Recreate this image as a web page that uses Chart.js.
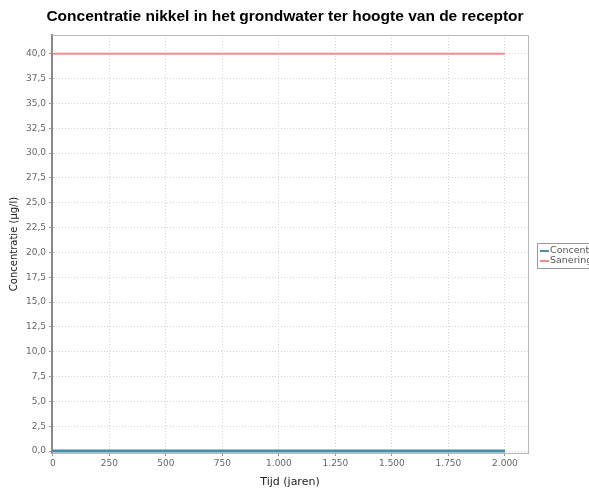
<!DOCTYPE html>
<html>
<head>
<meta charset="utf-8">
<script src="https://cdn.jsdelivr.net/npm/chart.js@4"></script>
<style>
    html, body { margin: 0; padding: 0; background: #fff; overflow: hidden; }
    #wrap { position: relative; width: 589px; height: 489px; }
</style>
</head>
<body>
<div id="wrap"><canvas id="grafiek" width="589" height="489"></canvas></div>
<script>
// ───── DATA ─────
const TITEL        = "Concentratie nikkel in het grondwater ter hoogte van de receptor";
const JAREN        = [0, 250, 500, 750, 1000, 1250, 1500, 1750, 2000];
const CONCENTRATIE = [0, 0, 0, 0, 0, 0, 0, 0, 0];
const SANERING     = [40, 40, 40, 40, 40, 40, 40, 40, 40];
const X_TICKS      = [0, 250, 500, 750, 1000, 1250, 1500, 1750, 2000];
const Y_TICKS      = [0, 2.5, 5, 7.5, 10, 12.5, 15, 17.5, 20, 22.5, 25, 27.5, 30, 32.5, 35, 37.5, 40];
const REEKSEN = [
    { label: "Concentratie",  data: CONCENTRATIE, color: "rgb(72,142,170)",  width: 3 },
    { label: "Saneringsnorm", data: SANERING,     color: "rgb(244,140,140)", width: 2 },
];

const FONT = "Tahoma, 'DejaVu Sans', sans-serif";

function fmtNL(v, dec) {
    // 1000 -> "1.000", 2.5 -> "2,5"
    let s = dec ? v.toFixed(dec) : String(Math.round(v));
    let [int, frac] = s.split(".");
    int = int.replace(/\B(?=(\d{3})+(?!\d))/g, ".");
    return frac !== undefined ? int + "," + frac : int;
}

// titel + plotkader + legenda rechts
const extraTekenen = {
    id: "extraTekenen",
    afterDraw(chart) {
        const ctx = chart.ctx;
        const a   = chart.chartArea;
        ctx.save();

        ctx.strokeStyle = "#b8b8b8";
        ctx.lineWidth = 1;
        ctx.setLineDash([]);
        ctx.beginPath();
        ctx.moveTo(a.left, a.top + 0.5);
        ctx.lineTo(a.right + 0.5, a.top + 0.5);
        ctx.lineTo(a.right + 0.5, a.bottom + 0.5);
        ctx.lineTo(a.left, a.bottom + 0.5);
        ctx.stroke();

        ctx.fillStyle = "#000";
        ctx.font = "bold 15.5px 'Liberation Sans', Arial, sans-serif";
        ctx.textAlign = "center";
        ctx.textBaseline = "middle";
        ctx.fillText(TITEL, 285, 17);

        const lx = 537, ly = 243;
        ctx.strokeStyle = "#999";
        ctx.strokeRect(lx + 0.5, ly + 0.5, 80, 25);
        ctx.font = "9.5px " + FONT;
        ctx.textAlign = "left";
        REEKSEN.forEach((r, i) => {
            const y = ly + 8 + i * 10;
            ctx.strokeStyle = r.color;
            ctx.lineWidth = 2;
            ctx.beginPath();
            ctx.moveTo(lx + 3, y);
            ctx.lineTo(lx + 12, y);
            ctx.stroke();
            ctx.fillStyle = "#555";
            ctx.fillText(r.label, lx + 13, y);
        });
        ctx.restore();
    }
};

new Chart(document.getElementById("grafiek").getContext("2d"), {
    type: "line",
    data: {
        datasets: REEKSEN.map(r => ({
            label: r.label,
            data: JAREN.map((j, i) => ({ x: j, y: r.data[i] })),
            borderColor: r.color,
            backgroundColor: r.color,
            borderWidth: r.width,
            pointRadius: 0,
            tension: 0,
        })).reverse()
    },
    options: {
        responsive: false,
        animation: false,
        layout: { padding: { top: 35, right: 61, left: 8, bottom: 0 } },
        plugins: {
            legend: { display: false },
            title: { display: false },
            tooltip: { enabled: false },
        },
        scales: {
            x: {
                type: "linear",
                min: -4, max: 2102,
                afterBuildTicks: s => { s.ticks = X_TICKS.map(v => ({ value: v })); },
                afterFit: s => { s.height = 36; },
                grid: { color: "#d4d4d4", tickLength: 3, tickColor: "#999", tickBorderDash: [] },
                border: { display: true, color: "#999", width: 1, dash: [1, 2] },
                ticks: { color: "#666", font: { family: FONT, size: 9 }, padding: 2, maxRotation: 0,
                         callback: v => fmtNL(v, 0) },
                title: { display: true, text: "Tijd (jaren)", color: "#222", font: { family: FONT, size: 11 }, padding: { top: 0, bottom: 0 } },
            },
            y: {
                type: "linear",
                min: -0.2, max: 41.9,
                afterBuildTicks: s => { s.ticks = Y_TICKS.map(v => ({ value: v })); },
                afterFit: s => { s.width = 44; },
                grid: { color: "#d4d4d4", tickLength: 3, tickColor: "#999", tickBorderDash: [] },
                border: { display: true, color: "#888", width: 2, dash: [1, 2] },
                ticks: { color: "#666", font: { family: FONT, size: 9 }, padding: 3,
                         callback: v => fmtNL(v, 1) },
                title: { display: true, text: "Concentratie (µg/l)", color: "#222", font: { family: FONT, size: 10 }, padding: { top: 0, bottom: 0 } },
            }
        }
    },
    plugins: [extraTekenen]
});
</script>
</body>
</html>
